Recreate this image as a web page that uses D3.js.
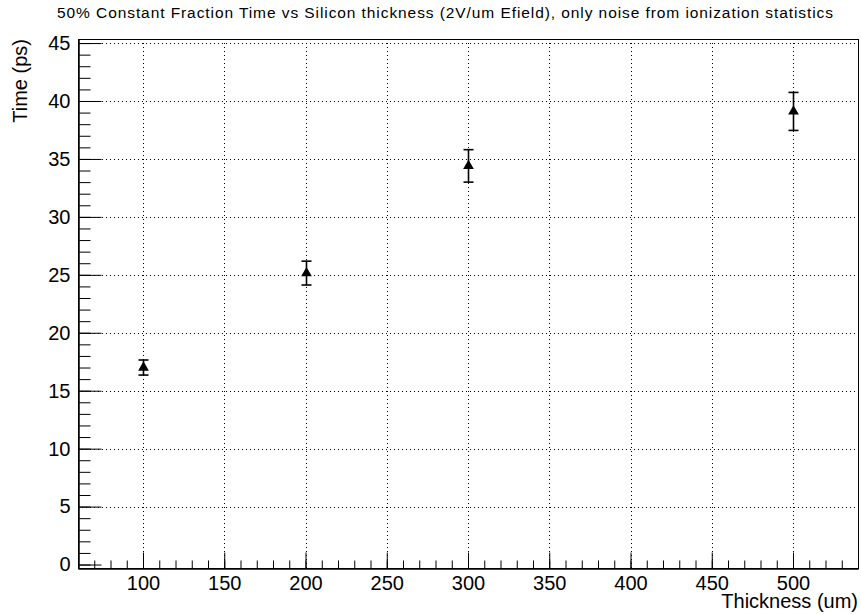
<!DOCTYPE html>
<html><head><meta charset="utf-8">
<script src="https://cdn.jsdelivr.net/npm/d3@7"></script>
<style>
body{margin:0;background:#fff;}
svg{display:block;font-family:"Liberation Sans",Arial,sans-serif;}
</style></head>
<body><svg id="c" width="861" height="614"></svg>
<script>
const thickness = [100, 200, 300, 500];
const timeValues = [17.0, 25.15, 34.4, 39.1];
const timeErrors = [0.65, 1.03, 1.4, 1.64];
const xMajorTicks = [100, 150, 200, 250, 300, 350, 400, 450, 500];
const yMajorTicks = [0, 5, 10, 15, 20, 25, 30, 35, 40, 45];
const titleText = "50% Constant Fraction Time vs Silicon thickness (2V/um Efield), only noise from ionization statistics";
const xTitle = "Thickness (um)";
const yTitle = "Time (ps)";

const svg = d3.select("#c");
const L = 78, R = 858, T = 39, B = 568;
const x = d3.scaleLinear().domain([60, 540]).range([L, R]);
const y = d3.scaleLinear().domain([-0.3, 45.35]).range([B, T]);

// grid
const g = svg.append("g");
g.selectAll(".gx").data(xMajorTicks).enter().append("line")
  .attr("x1", d => Math.round(x(d)) + 0.5).attr("x2", d => Math.round(x(d)) + 0.5).attr("y1", B).attr("y2", T)
  .attr("stroke", "#000").attr("stroke-width", 1).attr("stroke-dasharray", "1,3");
g.selectAll(".gy").data(yMajorTicks.filter(d => d > 0)).enter().append("line")
  .attr("x1", L).attr("x2", R).attr("y1", d => Math.round(y(d)) + 0.5).attr("y2", d => Math.round(y(d)) + 0.5)
  .attr("stroke", "#000").attr("stroke-width", 1).attr("stroke-dasharray", "1,3");

// frame
svg.append("rect").attr("x", L + 0.5).attr("y", T + 0.5).attr("width", R - L).attr("height", B - T)
  .attr("fill", "none").attr("stroke", "#000").attr("stroke-width", 1);

// axes
const xMinor = d3.range(60, 541, 10);
const yMinor = d3.range(0, 46, 1);
const ax = svg.append("g").attr("transform", `translate(0,${B + 0.5})`);
ax.call(d3.axisBottom(x).tickValues(xMinor).tickSize(-8).tickFormat(""));
const axM = svg.append("g").attr("transform", `translate(0,${B + 0.5})`);
axM.call(d3.axisBottom(x).tickValues(xMajorTicks).tickSize(-16).tickPadding(7).tickFormat(d3.format("d")));
const ay = svg.append("g").attr("transform", `translate(${L + 0.5},0)`);
ay.call(d3.axisLeft(y).tickValues(yMinor).tickSize(-12).tickFormat(""));
const ayM = svg.append("g").attr("transform", `translate(${L + 0.5},0)`);
ayM.call(d3.axisLeft(y).tickValues(yMajorTicks).tickSize(-23).tickPadding(8).tickFormat(d3.format("d")));
svg.selectAll(".domain").attr("stroke", "#000");
svg.selectAll(".tick line").attr("stroke", "#000");
svg.selectAll(".tick text").attr("font-size", 20).attr("fill", "#000")
  .attr("font-family", "Liberation Sans, Arial, sans-serif");

// titles
svg.append("text").attr("x", 445).attr("y", 18).attr("text-anchor", "middle")
  .attr("font-size", 15.5).attr("textLength", 776).attr("lengthAdjust", "spacing").text(titleText);
svg.append("text").attr("x", R).attr("y", 608).attr("text-anchor", "end")
  .attr("font-size", 20).text(xTitle);
svg.append("text").attr("transform", `translate(27,${T}) rotate(-90)`).attr("text-anchor", "end")
  .attr("font-size", 20).text(yTitle);

// data: error bars + markers
const pts = thickness.map((t, i) => ({x: t, y: timeValues[i], e: timeErrors[i]}));
const pg = svg.append("g");
pts.forEach(p => {
  const cx = Math.round(x(p.x)) + 0.5;
  pg.append("line").attr("x1", cx).attr("x2", cx).attr("y1", y(p.y + p.e)).attr("y2", y(p.y - p.e))
    .attr("stroke", "#000").attr("stroke-width", 1.6);
  [p.y + p.e, p.y - p.e].forEach(v => {
    pg.append("line").attr("x1", cx - 5).attr("x2", cx + 5).attr("y1", y(v)).attr("y2", y(v))
      .attr("stroke", "#000").attr("stroke-width", 1.6);
  });
});
pg.selectAll("path.m").data(pts).enter().append("path")
  .attr("transform", d => `translate(${Math.round(x(d.x)) + 0.5},${y(d.y)})`)
  .attr("d", d3.symbol(d3.symbolTriangle, 50))
  .attr("fill", "#000");
</script></body></html>
